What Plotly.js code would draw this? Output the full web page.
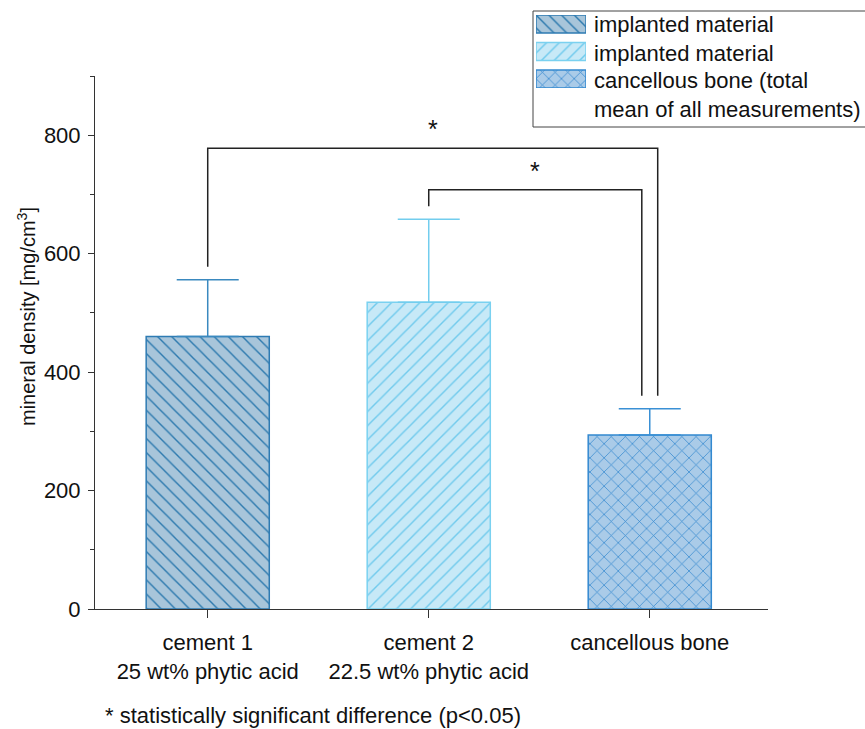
<!DOCTYPE html>
<html>
<head>
<meta charset="utf-8">
<script src="https://cdn.plot.ly/plotly-3.0.1.min.js"></script>
<style>
  html, body { margin: 0; padding: 0; background: #fff; }
  #chart { width: 865px; height: 729px; }
</style>
</head>
<body>
<div id="chart"></div>
<script>
// Mineral density of the implanted cements vs. cancellous bone
const categories = ['cement 1<br>25 wt% phytic acid', 'cement 2<br>22.5 wt% phytic acid', 'cancellous bone'];
const meanDensity = [460, 518, 294];
const sdDensity = [96, 140, 44];
const legendLabels = ['implanted material', 'implanted material', 'cancellous bone (total', 'mean of all measurements)'];
const yTicks = [0, 200, 400, 600, 800];
const yTitle = 'mineral density [mg/cm<sup>3</sup>]';

// significance brackets: [from bar, to bar], bracket height, label
const sigPairs = [[0, 2], [1, 2]];
const sigHeights = [778, 708];
const sigLabel = '*';
const footnote = '* statistically significant difference (p<0.05)';

// styling
const fillColors = ['#a8c5da', '#c7e9f7', '#aacbe8'];
const hatchColors = ['#2c79ae', '#6fcaed', '#3387cf'];
const edgeColors = ['#2e7bb3', '#7ad1f0', '#3389d0'];
const errColors = ['#3a89bf', '#72cdee', '#3a90d5'];
const hatchShapes = ['\\', '/', 'x'];
const FONT = 'Arial, "Liberation Sans", sans-serif';

const traces = [];
meanDensity.forEach((v, i) => {
  traces.push({
    type: 'bar',
    x: [categories[i]],
    y: [v],
    width: 0.557,
    xaxis: 'x', yaxis: 'y',
    showlegend: false,
    marker: {
      color: fillColors[i],
      line: { color: edgeColors[i], width: 1.5 },
      pattern: { shape: hatchShapes[i], fillmode: 'replace', bgcolor: fillColors[i], fgcolor: hatchColors[i], size: 10, solidity: 0.14 }
    },
    error_y: { type: 'data', symmetric: false, array: [sdDensity[i]], arrayminus: [0], color: errColors[i], thickness: 1.5, width: 31 },
    hoverinfo: 'y'
  });
});

// legend swatches drawn as small bars on their own axes
hatchShapes.forEach((s, i) => {
  traces.push({
    type: 'bar',
    orientation: 'h',
    x: [1],
    y: [i],
    width: 0.66,
    xaxis: 'x2', yaxis: 'y2',
    showlegend: false,
    hoverinfo: 'skip',
    marker: {
      color: fillColors[i],
      line: { color: edgeColors[i], width: 1.5 },
      pattern: { shape: s, fillmode: 'replace', bgcolor: fillColors[i], fgcolor: hatchColors[i], size: 9, solidity: 0.16 }
    }
  });
});

// bracket shapes from the bar data
const shapes = [];
const annotations = [];
const legOffsets = [[0, 0.036], [0, -0.036]];
const gap = 22;
sigPairs.forEach((p, k) => {
  const xa = p[0] + legOffsets[k][0];
  const xb = p[1] + legOffsets[k][1];
  const ya = meanDensity[p[0]] + sdDensity[p[0]] + gap;
  const yb = meanDensity[p[1]] + sdDensity[p[1]] + gap;
  const h = sigHeights[k];
  shapes.push({
    type: 'path', xref: 'x', yref: 'y',
    path: `M ${xa},${ya} L ${xa},${h} L ${xb},${h} L ${xb},${yb}`,
    line: { color: '#222', width: 1.5 }
  });
  annotations.push({
    xref: 'x', yref: 'y', x: (xa + xb) / 2, y: h, yshift: 3,
    text: sigLabel, showarrow: false, yanchor: 'bottom',
    font: { family: FONT, size: 25, color: '#111' }
  });
});

// legend frame and labels
const W = 865, H = 729, ML = 95, MB = 120;
const PW = W - ML, PH = H - MB;
const px = x => (x - ML) / PW;
const py = y => (PH - y) / PH;
shapes.push({
  type: 'rect', xref: 'paper', yref: 'paper',
  x0: px(533), x1: px(900), y0: py(127), y1: py(11),
  line: { color: '#444', width: 1 }, fillcolor: 'rgba(0,0,0,0)'
});
const rowY = [25, 53, 81, 109];
legendLabels.forEach((t, i) => {
  annotations.push({
    xref: 'paper', yref: 'paper', x: px(592), y: py(rowY[i]),
    xanchor: 'left', yanchor: 'middle', text: t, showarrow: false,
    font: { family: FONT, size: 22, color: '#111' }
  });
});
annotations.push({
  xref: 'paper', yref: 'paper', x: px(103), y: py(716),
  xanchor: 'left', yanchor: 'middle', text: footnote, showarrow: false,
  font: { family: FONT, size: 22, color: '#111' }
});
// y-axis title
annotations.push({
  xref: 'paper', yref: 'paper', x: px(27), y: py(317),
  xanchor: 'center', yanchor: 'middle', textangle: -90, text: yTitle, showarrow: false,
  font: { family: FONT, size: 20, color: '#111' }
});

const layout = {
  width: W, height: H,
  margin: { l: ML, r: 0, t: 0, b: MB },
  paper_bgcolor: '#fff', plot_bgcolor: '#fff',
  font: { family: FONT, size: 22, color: '#111' },
  barmode: 'overlay',
  xaxis: {
    domain: [0, px(768)],
    type: 'category',
    range: [-0.51, 2.535],
    showline: true, linecolor: '#333', linewidth: 1,
    ticks: 'outside', ticklen: 8, tickcolor: '#333', tickwidth: 1,
    showgrid: false, zeroline: false,
    tickfont: { family: FONT, size: 22, color: '#111' },
    ticklabelstandoff: 6
  },
  yaxis: {
    domain: [0, py(76)],
    range: [0, 900],
    tickvals: yTicks,
    showline: true, linecolor: '#333', linewidth: 1,
    ticks: 'outside', ticklen: 6, tickcolor: '#333', tickwidth: 1,
    minor: { dtick: 100, ticks: 'outside', ticklen: 4, tickcolor: '#333', showgrid: false },
    showgrid: false, zeroline: false,
    tickfont: { family: FONT, size: 22, color: '#111' },
    ticklabelstandoff: 3
  },
  xaxis2: {
    domain: [px(536), px(586)], anchor: 'y2', range: [0, 1],
    visible: false, fixedrange: true
  },
  yaxis2: {
    domain: [py(88), py(15)], anchor: 'x2', range: [2.33, -0.33],
    visible: false, fixedrange: true
  },
  shapes: shapes,
  annotations: annotations
};

Plotly.newPlot('chart', traces, layout, { displayModeBar: false, staticPlot: true });
</script>
</body>
</html>
